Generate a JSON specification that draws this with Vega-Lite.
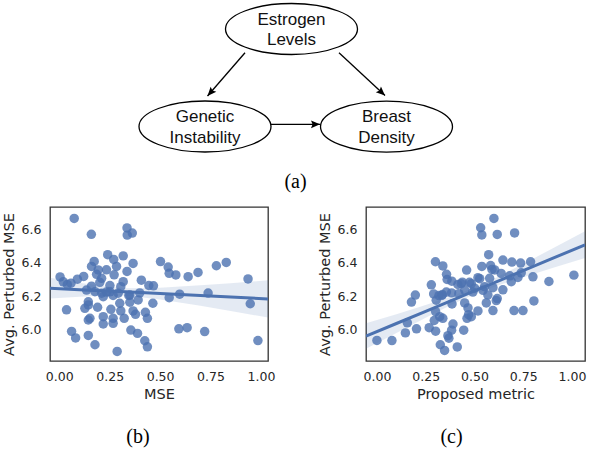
{
  "$schema": "https://vega.github.io/schema/vega-lite/v6.json",
  "padding": 0,
  "background": "white",
  "config": {
    "view": {"stroke": "#333333", "strokeWidth": 1.3},
    "axis": {
      "grid": false, "ticks": false, "domain": false,
      "labelFont": "DejaVu Sans", "labelFontSize": 12.5, "labelColor": "#262626", "labelPadding": 9,
      "titleFont": "DejaVu Sans", "titleFontSize": 14.5, "titleFontWeight": "normal", "titleColor": "#262626", "titlePadding": 5
    },
    "title": {"font": "Liberation Serif", "fontSize": 20, "fontWeight": "normal", "color": "black"}
  },
  "datasets": {
    "nodes": [
      {"label": "Estrogen\nLevels", "x": 292.5, "y": 28},
      {"label": "Genetic\nInstability", "x": 206, "y": 125.5},
      {"label": "Breast\nDensity", "x": 387.5, "y": 125.7}
    ],
    "edges": [
      {"fx": 246, "fy": 51.7, "tx": 208.5, "ty": 95, "angle": 221.7},
      {"fx": 340, "fy": 51.7, "tx": 386, "ty": 94.5, "angle": 132.6},
      {"fx": 271.7, "fy": 123.3, "tx": 321, "ty": 123.3, "angle": 90}
    ],
    "caption": [{"label": "(a)", "x": 296.5, "y": 181}],
    "b_points": [
      {"mse": 0.074, "perturbed": 6.665}, {"mse": 0.159, "perturbed": 6.570}, {"mse": 0.336, "perturbed": 6.608},
      {"mse": 0.337, "perturbed": 6.565}, {"mse": 0.362, "perturbed": 6.577}, {"mse": 0.004, "perturbed": 6.315},
      {"mse": 0.020, "perturbed": 6.286}, {"mse": 0.040, "perturbed": 6.270}, {"mse": 0.058, "perturbed": 6.278},
      {"mse": 0.090, "perturbed": 6.302}, {"mse": 0.121, "perturbed": 6.318}, {"mse": 0.036, "perturbed": 6.119},
      {"mse": 0.061, "perturbed": 5.990}, {"mse": 0.081, "perturbed": 5.951}, {"mse": 0.144, "perturbed": 5.966},
      {"mse": 0.177, "perturbed": 5.910}, {"mse": 0.287, "perturbed": 5.870}, {"mse": 0.240, "perturbed": 6.448},
      {"mse": 0.270, "perturbed": 6.420}, {"mse": 0.317, "perturbed": 6.441}, {"mse": 0.366, "perturbed": 6.396},
      {"mse": 0.173, "perturbed": 6.408}, {"mse": 0.160, "perturbed": 6.378}, {"mse": 0.284, "perturbed": 6.378},
      {"mse": 0.234, "perturbed": 6.358}, {"mse": 0.193, "perturbed": 6.357}, {"mse": 0.185, "perturbed": 6.331},
      {"mse": 0.210, "perturbed": 6.307}, {"mse": 0.272, "perturbed": 6.328}, {"mse": 0.336, "perturbed": 6.348},
      {"mse": 0.407, "perturbed": 6.296}, {"mse": 0.444, "perturbed": 6.264}, {"mse": 0.317, "perturbed": 6.287},
      {"mse": 0.305, "perturbed": 6.257}, {"mse": 0.251, "perturbed": 6.264}, {"mse": 0.201, "perturbed": 6.283},
      {"mse": 0.160, "perturbed": 6.260}, {"mse": 0.135, "perturbed": 6.237}, {"mse": 0.177, "perturbed": 6.227},
      {"mse": 0.210, "perturbed": 6.218}, {"mse": 0.251, "perturbed": 6.226}, {"mse": 0.292, "perturbed": 6.218},
      {"mse": 0.350, "perturbed": 6.207}, {"mse": 0.391, "perturbed": 6.178}, {"mse": 0.350, "perturbed": 6.164},
      {"mse": 0.300, "perturbed": 6.158}, {"mse": 0.218, "perturbed": 6.197}, {"mse": 0.144, "perturbed": 6.167},
      {"mse": 0.144, "perturbed": 6.148}, {"mse": 0.127, "perturbed": 6.128}, {"mse": 0.190, "perturbed": 6.134},
      {"mse": 0.256, "perturbed": 6.122}, {"mse": 0.305, "perturbed": 6.112}, {"mse": 0.366, "perturbed": 6.112},
      {"mse": 0.378, "perturbed": 6.092}, {"mse": 0.427, "perturbed": 6.104}, {"mse": 0.437, "perturbed": 6.068},
      {"mse": 0.464, "perturbed": 6.158}, {"mse": 0.152, "perturbed": 6.068}, {"mse": 0.144, "perturbed": 6.058},
      {"mse": 0.218, "perturbed": 6.078}, {"mse": 0.218, "perturbed": 6.034}, {"mse": 0.267, "perturbed": 6.068},
      {"mse": 0.267, "perturbed": 6.038}, {"mse": 0.322, "perturbed": 6.068}, {"mse": 0.355, "perturbed": 5.998},
      {"mse": 0.388, "perturbed": 5.978}, {"mse": 0.424, "perturbed": 5.934}, {"mse": 0.437, "perturbed": 5.898},
      {"mse": 0.399, "perturbed": 6.220}, {"mse": 0.345, "perturbed": 6.205}, {"mse": 0.267, "perturbed": 6.205},
      {"mse": 0.234, "perturbed": 6.225}, {"mse": 0.502, "perturbed": 6.407}, {"mse": 0.540, "perturbed": 6.374},
      {"mse": 0.545, "perturbed": 6.337}, {"mse": 0.578, "perturbed": 6.327}, {"mse": 0.639, "perturbed": 6.317},
      {"mse": 0.688, "perturbed": 6.342}, {"mse": 0.779, "perturbed": 6.382}, {"mse": 0.828, "perturbed": 6.402},
      {"mse": 0.936, "perturbed": 6.303}, {"mse": 0.467, "perturbed": 6.262}, {"mse": 0.545, "perturbed": 6.191},
      {"mse": 0.597, "perturbed": 6.212}, {"mse": 0.738, "perturbed": 6.219}, {"mse": 0.947, "perturbed": 6.155},
      {"mse": 0.593, "perturbed": 6.005}, {"mse": 0.634, "perturbed": 6.012}, {"mse": 0.721, "perturbed": 5.989},
      {"mse": 0.985, "perturbed": 5.935}
    ],
    "b_fit": [
      {"x": -0.046, "fit": 6.248, "lo": 6.186, "hi": 6.310},
      {"x": 0.1, "fit": 6.239, "lo": 6.197, "hi": 6.281},
      {"x": 0.2, "fit": 6.233, "lo": 6.203, "hi": 6.263},
      {"x": 0.33, "fit": 6.226, "lo": 6.204, "hi": 6.248},
      {"x": 0.5, "fit": 6.216, "lo": 6.181, "hi": 6.250},
      {"x": 0.7, "fit": 6.204, "lo": 6.143, "hi": 6.265},
      {"x": 0.85, "fit": 6.195, "lo": 6.112, "hi": 6.278},
      {"x": 1.035, "fit": 6.184, "lo": 6.073, "hi": 6.295}
    ],
    "c_points": [
      {"metric": 0.000, "perturbed": 5.936}, {"metric": 0.077, "perturbed": 5.935}, {"metric": 0.146, "perturbed": 5.981},
      {"metric": 0.156, "perturbed": 6.041}, {"metric": 0.203, "perturbed": 6.005}, {"metric": 0.177, "perturbed": 6.165},
      {"metric": 0.197, "perturbed": 6.207}, {"metric": 0.268, "perturbed": 6.012}, {"metric": 0.301, "perturbed": 5.991},
      {"metric": 0.279, "perturbed": 6.268}, {"metric": 0.300, "perturbed": 6.406}, {"metric": 0.338, "perturbed": 6.381},
      {"metric": 0.291, "perturbed": 6.214}, {"metric": 0.318, "perturbed": 6.204}, {"metric": 0.336, "perturbed": 6.210},
      {"metric": 0.301, "perturbed": 6.108}, {"metric": 0.322, "perturbed": 6.078}, {"metric": 0.338, "perturbed": 6.068},
      {"metric": 0.294, "perturbed": 6.055}, {"metric": 0.357, "perturbed": 6.331}, {"metric": 0.360, "perturbed": 6.300},
      {"metric": 0.384, "perturbed": 6.290}, {"metric": 0.383, "perturbed": 6.220}, {"metric": 0.385, "perturbed": 6.154},
      {"metric": 0.390, "perturbed": 6.034}, {"metric": 0.383, "perturbed": 5.997}, {"metric": 0.364, "perturbed": 5.964},
      {"metric": 0.369, "perturbed": 5.949}, {"metric": 0.325, "perturbed": 5.910}, {"metric": 0.347, "perturbed": 5.876},
      {"metric": 0.412, "perturbed": 5.897}, {"metric": 0.445, "perturbed": 5.997}, {"metric": 0.415, "perturbed": 6.270},
      {"metric": 0.438, "perturbed": 6.284}, {"metric": 0.460, "perturbed": 6.356}, {"metric": 0.450, "perturbed": 6.160},
      {"metric": 0.470, "perturbed": 6.090}, {"metric": 0.462, "perturbed": 6.068}, {"metric": 0.450, "perturbed": 6.237},
      {"metric": 0.484, "perturbed": 6.275}, {"metric": 0.467, "perturbed": 6.130}, {"metric": 0.484, "perturbed": 6.078},
      {"metric": 0.475, "perturbed": 6.283}, {"metric": 0.501, "perturbed": 6.248}, {"metric": 0.518, "perturbed": 6.311},
      {"metric": 0.518, "perturbed": 6.112}, {"metric": 0.532, "perturbed": 6.609}, {"metric": 0.538, "perturbed": 6.566},
      {"metric": 0.600, "perturbed": 6.665}, {"metric": 0.617, "perturbed": 6.569}, {"metric": 0.706, "perturbed": 6.578},
      {"metric": 0.573, "perturbed": 6.448}, {"metric": 0.538, "perturbed": 6.378}, {"metric": 0.583, "perturbed": 6.383},
      {"metric": 0.604, "perturbed": 6.357}, {"metric": 0.590, "perturbed": 6.360}, {"metric": 0.646, "perturbed": 6.416},
      {"metric": 0.692, "perturbed": 6.404}, {"metric": 0.737, "perturbed": 6.398}, {"metric": 0.788, "perturbed": 6.406},
      {"metric": 0.637, "perturbed": 6.336}, {"metric": 0.681, "perturbed": 6.322}, {"metric": 0.723, "perturbed": 6.312},
      {"metric": 0.740, "perturbed": 6.340}, {"metric": 0.800, "perturbed": 6.316}, {"metric": 0.882, "perturbed": 6.288},
      {"metric": 1.010, "perturbed": 6.326}, {"metric": 0.578, "perturbed": 6.307}, {"metric": 0.552, "perturbed": 6.257},
      {"metric": 0.595, "perturbed": 6.251}, {"metric": 0.569, "perturbed": 6.208}, {"metric": 0.646, "perturbed": 6.238},
      {"metric": 0.689, "perturbed": 6.287}, {"metric": 0.617, "perturbed": 6.186}, {"metric": 0.561, "perturbed": 6.160},
      {"metric": 0.595, "perturbed": 6.114}, {"metric": 0.612, "perturbed": 6.174}, {"metric": 0.805, "perturbed": 6.172},
      {"metric": 0.703, "perturbed": 6.114}, {"metric": 0.749, "perturbed": 6.114}, {"metric": 0.527, "perturbed": 6.305},
      {"metric": 0.544, "perturbed": 6.235}, {"metric": 0.492, "perturbed": 6.225}, {"metric": 0.420, "perturbed": 6.215},
      {"metric": 0.356, "perturbed": 6.225}, {"metric": 0.333, "perturbed": 6.205}, {"metric": 0.304, "perturbed": 6.176},
      {"metric": 0.432, "perturbed": 6.275}
    ],
    "c_fit": [
      {"x": -0.056, "fit": 5.962, "lo": 5.886, "hi": 6.038},
      {"x": 0.1, "fit": 6.037, "lo": 5.981, "hi": 6.093},
      {"x": 0.25, "fit": 6.110, "lo": 6.072, "hi": 6.148},
      {"x": 0.4, "fit": 6.183, "lo": 6.160, "hi": 6.206},
      {"x": 0.5, "fit": 6.232, "lo": 6.212, "hi": 6.252},
      {"x": 0.6, "fit": 6.280, "lo": 6.256, "hi": 6.305},
      {"x": 0.75, "fit": 6.353, "lo": 6.313, "hi": 6.393},
      {"x": 0.9, "fit": 6.426, "lo": 6.368, "hi": 6.485},
      {"x": 1.067, "fit": 6.507, "lo": 6.428, "hi": 6.588}
    ]
  },
  "spacing": 0,
  "vconcat": [
    {
      "width": 541,
      "height": 205,
      "view": {"stroke": null},
      "layer": [
        {
          "data": {"name": "edges"},
          "mark": {"type": "rule", "color": "black", "strokeWidth": 1.3},
          "encoding": {
            "x": {"field": "fx", "type": "quantitative", "scale": {"domain": [51, 592]}, "axis": null},
            "y": {"field": "fy", "type": "quantitative", "scale": {"domain": [0, 205], "reverse": true}, "axis": null},
            "x2": {"field": "tx"},
            "y2": {"field": "ty"}
          }
        },
        {
          "data": {"name": "edges"},
          "mark": {"type": "point", "shape": "M 0 0 L 0.85 2 L 0 1.65 L -0.85 2 Z", "size": 81, "filled": true, "color": "black", "opacity": 1},
          "encoding": {
            "x": {"field": "tx", "type": "quantitative", "scale": {"domain": [51, 592]}, "axis": null},
            "y": {"field": "ty", "type": "quantitative", "scale": {"domain": [0, 205], "reverse": true}, "axis": null},
            "angle": {"field": "angle", "type": "quantitative", "scale": null}
          }
        },
        {
          "data": {"name": "nodes"},
          "mark": {
            "type": "point",
            "shape": "M 1 0 C 1 0.2132 0.5523 0.386 0 0.386 C -0.5523 0.386 -1 0.2132 -1 0 C -1 -0.2132 -0.5523 -0.386 0 -0.386 C 0.5523 -0.386 1 -0.2132 1 0 Z",
            "size": 17424,
            "fill": "white",
            "fillOpacity": 1,
            "stroke": "black",
            "strokeWidth": 1.3,
            "opacity": 1
          },
          "encoding": {
            "x": {"field": "x", "type": "quantitative", "scale": {"domain": [51, 592]}, "axis": null},
            "y": {"field": "y", "type": "quantitative", "scale": {"domain": [0, 205], "reverse": true}, "axis": null}
          }
        },
        {
          "data": {"name": "nodes"},
          "mark": {"type": "text", "font": "Liberation Sans", "fontSize": 17, "lineBreak": "\n", "lineHeight": 20.5, "align": "center", "baseline": "middle", "dy": -9.5, "color": "#111111"},
          "encoding": {
            "x": {"field": "x", "type": "quantitative", "scale": {"domain": [51, 592]}, "axis": null},
            "y": {"field": "y", "type": "quantitative", "scale": {"domain": [0, 205], "reverse": true}, "axis": null},
            "text": {"field": "label"}
          }
        },
        {
          "data": {"name": "caption"},
          "mark": {"type": "text", "font": "Liberation Serif", "fontSize": 20, "align": "center", "baseline": "middle", "color": "black"},
          "encoding": {
            "x": {"field": "x", "type": "quantitative", "scale": {"domain": [51, 592]}, "axis": null},
            "y": {"field": "y", "type": "quantitative", "scale": {"domain": [0, 205], "reverse": true}, "axis": null},
            "text": {"field": "label"}
          }
        }
      ]
    },
    {
      "spacing": 40,
      "hconcat": [
        {
          "width": 218,
          "height": 154,
          "title": {"text": "(b)", "orient": "bottom", "anchor": "middle", "frame": "bounds", "offset": 26},
          "layer": [
            {
              "data": {"name": "b_points"},
              "mark": {"type": "circle", "size": 90, "color": "#4c72b0", "opacity": 0.8},
              "encoding": {
                "x": {"field": "mse", "type": "quantitative", "scale": {"domain": [-0.046, 1.035], "nice": false, "zero": false},
                      "axis": {"title": "MSE", "values": [0, 0.25, 0.5, 0.75, 1], "format": ".2f"}},
                "y": {"field": "perturbed", "type": "quantitative", "scale": {"domain": [5.813, 6.733], "nice": false, "zero": false},
                      "axis": {"title": "Avg. Perturbed MSE", "values": [6.0, 6.2, 6.4, 6.6], "format": ".1f"}}
              }
            },
            {
              "data": {"name": "b_fit"},
              "mark": {"type": "area", "color": "#4c72b0", "opacity": 0.15, "clip": true},
              "encoding": {
                "x": {"field": "x", "type": "quantitative", "axis": {"title": "MSE"}},
                "y": {"field": "lo", "type": "quantitative", "axis": {"title": "Avg. Perturbed MSE"}},
                "y2": {"field": "hi"}
              }
            },
            {
              "data": {"name": "b_fit"},
              "mark": {"type": "line", "color": "#4c72b0", "strokeWidth": 3, "clip": true},
              "encoding": {
                "x": {"field": "x", "type": "quantitative", "axis": {"title": "MSE"}},
                "y": {"field": "fit", "type": "quantitative", "axis": {"title": "Avg. Perturbed MSE"}}
              }
            }
          ]
        },
        {
          "width": 219,
          "height": 154,
          "title": {"text": "(c)", "orient": "bottom", "anchor": "middle", "frame": "bounds", "offset": 26},
          "layer": [
            {
              "data": {"name": "c_points"},
              "mark": {"type": "circle", "size": 90, "color": "#4c72b0", "opacity": 0.8},
              "encoding": {
                "x": {"field": "metric", "type": "quantitative", "scale": {"domain": [-0.056, 1.067], "nice": false, "zero": false},
                      "axis": {"title": "Proposed metric", "values": [0, 0.25, 0.5, 0.75, 1], "format": ".2f"}},
                "y": {"field": "perturbed", "type": "quantitative", "scale": {"domain": [5.813, 6.733], "nice": false, "zero": false},
                      "axis": {"title": "Avg. Perturbed MSE", "values": [6.0, 6.2, 6.4, 6.6], "format": ".1f"}}
              }
            },
            {
              "data": {"name": "c_fit"},
              "mark": {"type": "area", "color": "#4c72b0", "opacity": 0.15, "clip": true},
              "encoding": {
                "x": {"field": "x", "type": "quantitative", "axis": {"title": "Proposed metric"}},
                "y": {"field": "lo", "type": "quantitative", "axis": {"title": "Avg. Perturbed MSE"}},
                "y2": {"field": "hi"}
              }
            },
            {
              "data": {"name": "c_fit"},
              "mark": {"type": "line", "color": "#4c72b0", "strokeWidth": 3, "clip": true},
              "encoding": {
                "x": {"field": "x", "type": "quantitative", "axis": {"title": "Proposed metric"}},
                "y": {"field": "fit", "type": "quantitative", "axis": {"title": "Avg. Perturbed MSE"}}
              }
            }
          ]
        }
      ]
    }
  ]
}
